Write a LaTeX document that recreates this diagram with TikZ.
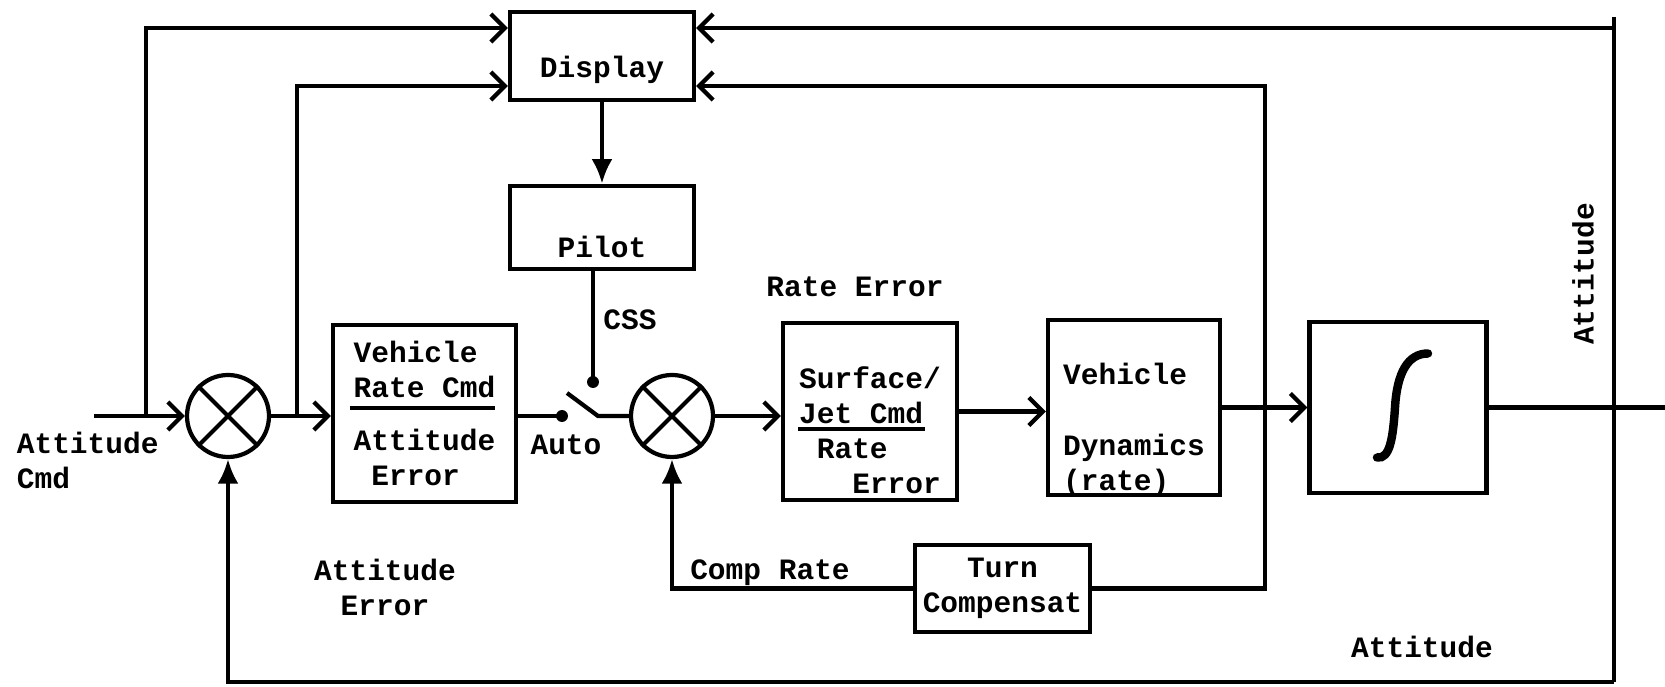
\documentclass[tikz,border=0pt]{standalone}
\usepackage{fontspec}
\setmonofont{Liberation Mono}
\usetikzlibrary{arrows.meta,positioning,calc}

\begin{document}
\begin{tikzpicture}[line width=1.2pt,
    txt/.style={font=\ttfamily\bfseries\fontsize{8.4}{10}\selectfont},
    blk/.style={draw,txt},
    sumj/.style={draw,circle,minimum size=0.82cm,inner sep=0pt},
    arr/.style={-{Straight Barb[length=4pt,width=8pt]}},
    arrf/.style={-{Latex[length=7pt,width=6pt]}}]
  \useasboundingbox (0,0) rectangle (16.65,6.87);

  % blocks
  \node[blk,minimum width=1.84cm,minimum height=0.88cm,text height=0.44cm,text depth=0pt] (disp) at (6.02,6.31) {Display};
  \node[blk,minimum width=1.84cm,minimum height=0.81cm,text height=0.60cm,text depth=0pt] (pilot) at (6.02,4.595) {Pilot};
  \node[blk,align=left,inner ysep=0pt,minimum width=1.83cm,minimum height=1.77cm] (vrc) at (4.245,2.735)
    {Vehicle\\Rate Cmd\\[5pt]Attitude\\\phantom{0}Error};
  \node[blk,minimum width=1.74cm,minimum height=1.77cm] (sj) at (8.70,2.755) {};
  \node[txt,align=left] (sjtxt) at ([yshift=-0.185cm]sj.center)
    {Surface/\\Jet Cmd\\\phantom{0}Rate\\\phantom{000}Error};
  \node[blk,minimum width=1.72cm,minimum height=1.75cm] (vd) at (11.34,2.795) {};
  \node[txt,align=left] (vdtxt) at ([yshift=-0.225cm]vd.center)
    {Vehicle\\\mbox{}\\Dynamics\\(rate)};
  \node[blk,minimum width=1.77cm,minimum height=1.71cm] (int) at (13.98,2.795) {};
  \node[blk,align=center,inner sep=1pt,minimum width=1.75cm,minimum height=0.87cm] (turn) at (10.025,0.985)
    {Turn\\Compensat};

  % summing junctions
  \node[sumj] (sum1) at (2.28,2.71) {};
  \node[sumj] (sum2) at (6.72,2.71) {};
  \foreach \s in {sum1,sum2}
    \draw (\s.45) -- (\s.225) (\s.135) -- (\s.-45);

  % fraction bars and integral sign
  \draw ([shift={(-0.75,0.055)}]vrc.center) -- ++(1.45,0);
  \draw ([shift={(-0.72,-0.175)}]sj.center) -- ++(1.27,0);
  \begin{scope}[shift={(int.center)}]
    \draw[line width=2.4pt,line cap=round] (-0.21,-0.50) .. controls (-0.08,-0.52) and (-0.05,-0.30) .. (-0.03,0)
      .. controls (-0.01,0.35) and (0.10,0.54) .. (0.30,0.54);
  \end{scope}

  % points on the lines
  \coordinate (cin) at (0.94,2.71);
  \coordinate (br1) at (1.46,2.71);
  \coordinate (br2) at (2.97,2.71);
  \coordinate (auto) at (5.62,2.71);
  \coordinate (css) at (5.93,3.05);
  \coordinate (blade) at (5.67,2.94);
  \coordinate (pivot) at (5.98,2.71);
  \coordinate (tap) at (12.65,6.01);
  \coordinate (rtop) at (16.14,6.70);
  \coordinate (rbot) at (16.14,0.05);
  \coordinate (cout) at (16.65,2.79);

  % connectors
  \draw[arr] (cin) -- (sum1);
  \draw[arr] (br1) |- ([yshift=0.28cm]disp.west);
  \draw[arr] (br2) |- ([yshift=-0.30cm]disp.west);
  \draw[arr] (sum1) -- (vrc.west |- sum1);
  \draw (vrc.east |- sum1) -- (auto);
  \fill (auto) circle (1.7pt);
  \fill (css) circle (1.7pt);
  \draw[arrf] (disp) -- (pilot);
  \draw (pilot.south -| css) -- (css);
  \draw (blade) -- (pivot) -- (sum2);
  \draw[arr] (sum2) -- (sj.west |- sum2);
  \draw[arr] (sj.east) -- (vd.west |- sj.east);
  \draw[arr] (vd) -- (int);
  \draw (int.east) -- (int.east -| cout);
  \draw (rtop) -- (rbot);
  \draw[arr] ([yshift=0.28cm]disp.east -| rtop) -- ([yshift=0.28cm]disp.east);
  \draw[arrf] (rbot) -| (sum1);
  \draw[arr] (turn.east) -| (tap) -- (disp.east |- tap);
  \draw[arrf] (turn.west) -| (sum2);

  % labels
  \node[txt,align=left,anchor=west] (lcmd) at (0.03,2.265) {Attitude\\Cmd};
  \node[txt] (lcss) at (6.30,3.67) {CSS};
  \node[txt] (lauto) at (5.66,2.42) {Auto};
  \node[txt] (lrate) at (8.55,4.00) {Rate Error};
  \node[txt,align=center] (laerr) at (3.85,0.995) {Attitude\\Error};
  \node[txt] (lcomp) at (7.70,1.14) {Comp Rate};
  \node[txt] (latt) at (14.22,0.40) {Attitude};
  \node[txt,rotate=90] (latt2) at (15.83,4.13) {Attitude};
\end{tikzpicture}
\end{document}
